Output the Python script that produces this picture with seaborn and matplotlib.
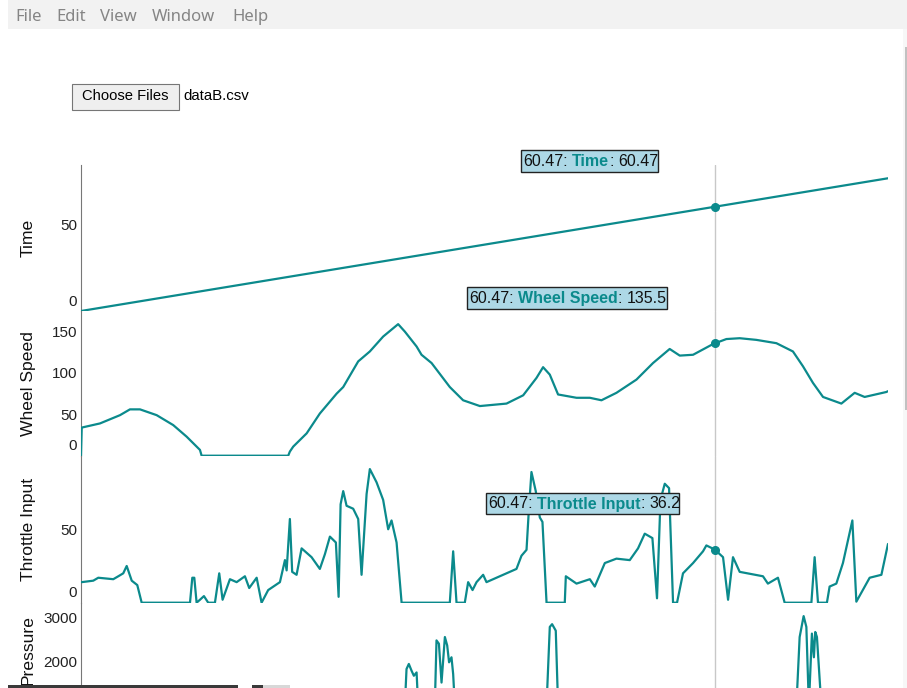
import matplotlib
matplotlib.use("Agg")
import matplotlib.pyplot as plt
from matplotlib.patches import Rectangle
from matplotlib.transforms import ScaledTranslation
import seaborn as sns
import numpy as np

time_t = [0.0, 20.0, 40.0, 60.47, 77.0]
time_v = [0.0, 20.0, 40.0, 60.47, 77.0]

wheel_t = [0.0, 0.07, 1.81, 3.72, 4.67, 5.63, 7.22, 8.80, 10.08, 11.35, 11.51, 19.77,
           19.93, 20.25, 21.53, 22.79, 24.39, 25.02, 26.45, 27.56, 28.83, 30.26, 30.90,
           32.02, 32.49, 33.45, 35.19, 36.46, 38.06, 40.60, 42.19, 43.46, 44.09, 44.73,
           45.52, 47.28, 48.55, 49.66, 51.09, 53.00, 54.58, 56.17, 57.13, 58.40, 60.31,
           61.58, 62.85, 64.44, 66.35, 67.93, 68.89, 69.84, 70.80, 72.55, 73.82, 74.77,
           76.84, 77.0]
wheel_v = [0, 34, 39, 49, 56, 56, 49, 37, 23, 7, 0, 0,
           5, 11, 27, 51, 75, 83, 114, 126, 144, 159, 150,
           132, 122, 112, 83, 67, 60, 63, 73, 94, 107, 98,
           74, 70, 70, 67, 76, 92, 112, 129, 121, 122, 135,
           141, 142, 140, 136, 126, 108, 88, 71, 63, 76, 71,
           77, 78]

throttle_t = [0.07, 1.17, 1.65, 3.08, 3.56, 4.03, 4.36, 4.84, 5.37, 5.79, 10.40, 10.62,
              10.81, 11.03, 11.35, 11.73, 12.14, 12.78, 13.19, 13.51, 14.21, 14.85, 15.64,
              16.05, 16.76, 17.23, 17.86, 18.98, 19.46, 19.62, 19.93, 20.15, 20.57, 21.05,
              22.00, 22.79, 23.27, 23.75, 24.32, 24.58, 24.77, 25.02, 25.34, 25.97, 26.45,
              26.77, 27.25, 27.56, 28.20, 28.83, 29.31, 29.63, 30.11, 30.59, 35.19, 35.51,
              35.83, 36.62, 36.94, 37.36, 37.74, 38.37, 38.69, 39.96, 41.55, 42.03, 42.51,
              42.73, 42.98, 43.39, 43.78, 44.03, 44.42, 46.16, 46.26, 47.28, 48.55, 49.02,
              49.98, 51.09, 52.36, 53.15, 53.79, 54.52, 54.96, 55.29, 55.70, 56.11, 56.49,
              56.87, 57.44, 58.40, 59.35, 59.67, 60.47, 61.26, 61.74, 62.21, 62.85, 65.07,
              65.54, 66.50, 67.14, 69.69, 70.00, 70.32, 71.17, 71.43, 72.07, 72.70, 73.60,
              73.98, 75.25, 76.37, 77.0]
throttle_v = [14, 15, 17, 16, 18, 20, 25, 15, 12, 0, 0, 17,
              17, 0, 2, 4.5, 0, 0, 20, 2, 16, 14, 18,
              10, 17, 0, 8.6, 14, 29, 22, 57, 21, 19, 37,
              31, 23, 33, 45, 41, 4, 67, 76, 66, 64, 57,
              19, 74, 91, 82, 70, 50, 56, 41, 0, 0, 35,
              0, 0, 14, 8.6, 14, 19, 14, 18, 23, 32, 36,
              63, 89, 76, 58, 55, 0, 0, 18, 13, 16, 11,
              27, 30, 29, 37, 47, 44, 3, 70, 81, 78, 0,
              0, 20, 27, 35, 39, 36.2, 31, 2, 31, 21, 18,
              13, 17, 0, 0, 31, 0, 0, 11, 13, 27, 56,
              0.7, 17, 19, 40]

pressure_t = [0.0, 30.90, 31.06, 31.28, 31.54, 31.76, 32.02, 32.17, 33.76, 33.92, 34.15,
              34.40, 34.72, 34.94, 35.12, 35.35, 35.51, 35.67, 44.42, 44.73, 44.95, 45.30,
              45.52, 68.26, 68.57, 68.95, 69.21, 69.45, 69.74, 69.93, 70.06, 70.22, 70.64,
              77.0]
pressure_v = [1000, 1000, 1833, 1947, 1794, 1680, 1755, 1000, 1000, 2480, 2405,
              1526, 2556, 2366, 1984, 2098, 1718, 1000, 1000, 2785, 2847, 2700,
              1000, 1000, 2556, 3030, 2785, 1000, 2634, 2098, 2670, 2556, 1000,
              1000]

panel_names = ['Time', 'Wheel Speed', 'Throttle Input', 'Pressure']
panel_ticks = [[0, 50], [0, 50, 100, 150], [0, 50], [2000, 3000]]
cursor_t = 60.47
tooltip_values = ['60.47', '135.5', '36.2']

# ---- layout em pixels da captura ----
W, H = 907, 688
TEAL = '#0b8a8c'


def fx(px):
    return px / W


def fy(py):
    return 1 - py / H


sns.set_theme(style="white")
plt.rcParams['font.family'] = ['Liberation Sans', 'DejaVu Sans']

fig = plt.figure(figsize=(W / 100, H / 100), dpi=100)

# barra de menu
fig.patches.append(Rectangle((fx(8), fy(29)), fx(W - 8), 29 / H, transform=fig.transFigure,
                             facecolor='#f2f2f2', edgecolor='none', zorder=1))
for word, x in zip(['File', 'Edit', 'View', 'Window', 'Help'], [15, 56, 100, 152, 232]):
    fig.text(fx(x), fy(17), word, fontsize=12, color='#858585', va='center',
             family=['Noto Sans', 'DejaVu Sans'])

# botão de arquivo
fig.patches.append(Rectangle((fx(72), fy(110)), fx(107), 26 / H, transform=fig.transFigure,
                             facecolor='#efefef', edgecolor='#767676', lw=0.8, zorder=1))
fig.text(fx(125.5), fy(96), 'Choose Files', fontsize=10.6, ha='center', va='center', color='black')
fig.text(fx(183), fy(96), 'dataB.csv', fontsize=10.8, ha='left', va='center', color='black')

# painéis (bordas em px)
bounds = [(165, 311), (311, 455.7), (455.7, 602.7), (602.7, 750)]
series = [(time_t, time_v), (wheel_t, wheel_v), (throttle_t, throttle_v), (pressure_t, pressure_v)]
label_y = [0.5, 0.5, 0.5, 0.68]

axes = []
for (top, bot), (t, v), name, ticks, ly in zip(bounds, series, panel_names, panel_ticks, label_y):
    ax = fig.add_axes([fx(81), fy(bot), fx(807), (bot - top) / H])
    ax.set_facecolor('none')
    ax.axvline(cursor_t, color='#c8c8c8', lw=1.0, zorder=1)
    sns.lineplot(x=t, y=v, ax=ax, color=TEAL, linewidth=1.6, sort=False, estimator=None, zorder=3)
    ax.plot([cursor_t], [np.interp(cursor_t, t, v)], 'o', color=TEAL, ms=5.5, zorder=4)
    ax.set_xlim(0, 77.0)
    ax.set_ylim(0, max(v) * 1.1)
    ax.set_yticks(ticks)
    ax.set_yticklabels([str(k) for k in ticks])
    ax.set_xticks([])
    ax.set_xlabel('')
    ax.set_ylabel(name, fontsize=12.6, color='#111111')
    ax.yaxis.set_label_coords(-0.0558, ly)
    ax.tick_params(axis='y', length=0, pad=2.9, labelsize=11, labelcolor='#222222')
    for s in ['top', 'right', 'bottom']:
        ax.spines[s].set_visible(False)
    ax.spines['left'].set_color('#777777')
    ax.spines['left'].set_linewidth(0.8)
    axes.append(ax)

# o rótulo "0" aparece deslocado para cima na captura
shift = ScaledTranslation(0, 0.11, fig.dpi_scale_trans)
for ax in axes[:3]:
    lab = ax.yaxis.get_major_ticks()[0].label1
    lab.set_transform(lab.get_transform() + shift)

# tooltips
renderer = fig.canvas.get_renderer()
boxes = [(521, 150, 658, 172), (467, 287, 667, 309), (486, 493, 679, 514)]
space_px = 0.278 * 16
for (x0, y0, x1, y1), name, val in zip(boxes, panel_names, tooltip_values):
    fig.patches.append(Rectangle((fx(x0), fy(y1)), fx(x1 - x0), (y1 - y0) / H,
                                 transform=fig.transFigure, facecolor='#add8e6',
                                 edgecolor='#222222', lw=1.0, zorder=5))
    parts = [('60.47:', '#111111', 'normal', space_px), (name, TEAL, 'bold', 0),
             (':', '#111111', 'normal', space_px), (val, '#111111', 'normal', 0)]
    x = x0 + 2
    yc = (y0 + y1) / 2 + 0.5
    for txt, col, wt, gap in parts:
        t_ = fig.text(fx(x), fy(yc), txt, fontsize=11.5, color=col, weight=wt,
                      ha='left', va='center', zorder=6)
        x += t_.get_window_extent(renderer).width + gap

# barras de rolagem
fig.patches.append(Rectangle((fx(903), 0), fx(4), fy(29), transform=fig.transFigure,
                             facecolor='#f7f7f7', edgecolor='none', zorder=1))
fig.patches.append(Rectangle((fx(904.5), fy(410)), fx(2), (410 - 47) / H, transform=fig.transFigure,
                             facecolor='#c1c1c1', edgecolor='none', zorder=2))
fig.patches.append(Rectangle((fx(8), 0), fx(230), 3 / H, transform=fig.transFigure,
                             facecolor='#3a3a3a', edgecolor='none', zorder=2))
fig.patches.append(Rectangle((fx(252), 0), fx(11), 3 / H, transform=fig.transFigure,
                             facecolor='#3a3a3a', edgecolor='none', zorder=2))
fig.patches.append(Rectangle((fx(263), 0), fx(27), 3 / H, transform=fig.transFigure,
                             facecolor='#d8d8d8', edgecolor='none', zorder=2))

fig.savefig('out.png', dpi=100)
